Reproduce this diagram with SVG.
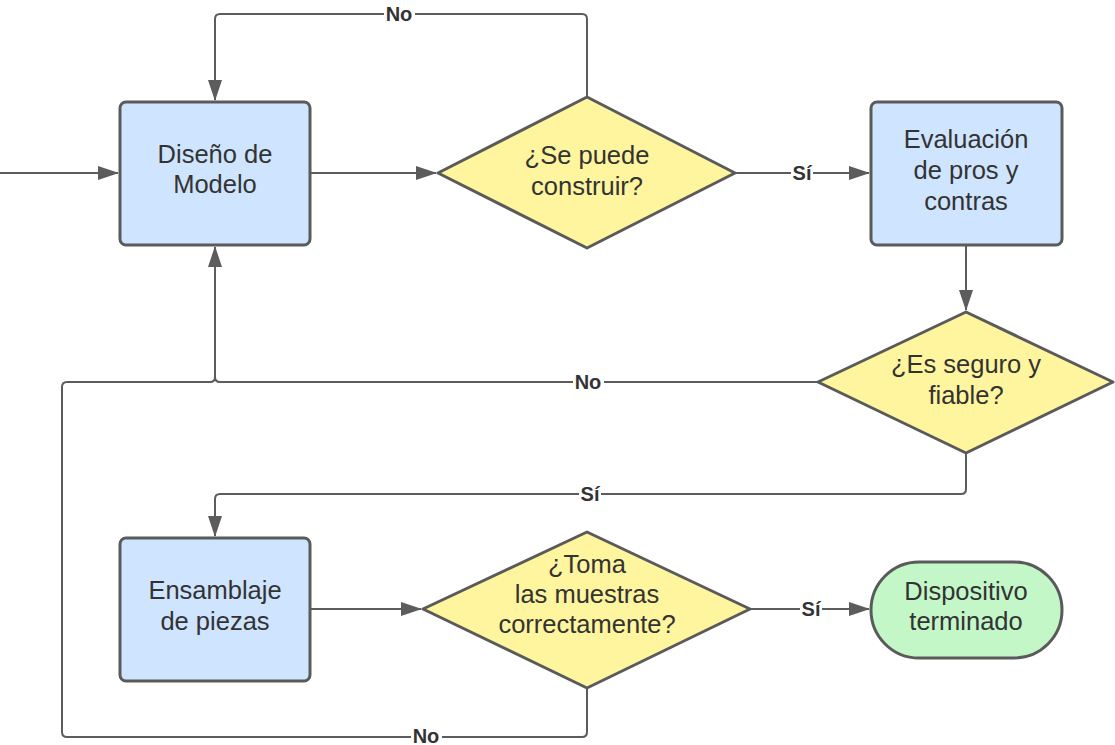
<svg xmlns="http://www.w3.org/2000/svg" width="1115" height="745" viewBox="0 0 1115 745">
<style>
.box{fill:#cfe4ff;stroke:#5a5a5a;stroke-width:3}
.dia{fill:#fff59e;stroke:#5a5a5a;stroke-width:3;stroke-linejoin:round}
.term{fill:#c3f7c8;stroke:#5a5a5a;stroke-width:3}
.t{font-family:"Liberation Sans",Arial,sans-serif;font-size:25.5px;fill:#333;text-anchor:middle}
.c{fill:none;stroke:#5c5c5c;stroke-width:2}
.lb{font-family:"Liberation Sans",Arial,sans-serif;font-size:20px;font-weight:bold;fill:#333;text-anchor:middle}
.lbg{fill:#fff}
</style>
<defs>
<marker id="ah" markerUnits="userSpaceOnUse" markerWidth="21" markerHeight="14" refX="20" refY="7" orient="auto">
<path d="M0,0 L21,7 L0,14 Z" fill="#5c5c5c"/>
</marker>
</defs>
<g id="connectors">
<path class="c" d="M0,173 H118" marker-end="url(#ah)"/>
<path class="c" d="M310,173 H436" marker-end="url(#ah)"/>
<path class="c" d="M587,97 V19 Q587,14 582,14 H220 Q215,14 215,19 V100" marker-end="url(#ah)"/>
<path class="c" d="M735,173 H869" marker-end="url(#ah)"/>
<path class="c" d="M966,245 V310" marker-end="url(#ah)"/>
<path class="c" d="M818,382 H220 Q215,382 215,377 V247" marker-end="url(#ah)"/>
<path class="c" d="M966,453 V489 Q966,494 961,494 H220 Q215,494 215,499 V536" marker-end="url(#ah)"/>
<path class="c" d="M310,609 H421" marker-end="url(#ah)"/>
<path class="c" d="M750,609 H869" marker-end="url(#ah)"/>
<path class="c" d="M587,688 V732 Q587,737 582,737 H67 Q62,737 62,732 V387 Q62,382 67,382 H210 Q215,382 215,377"/>
<rect class="lbg" x="384" y="4" width="31" height="20"/>
<text class="lb" x="399" y="21">No</text>
<rect class="lbg" x="791" y="163" width="22" height="20"/>
<text class="lb" x="802" y="180">Sí</text>
<rect class="lbg" x="573" y="372" width="31" height="20"/>
<text class="lb" x="588" y="389">No</text>
<rect class="lbg" x="579" y="484" width="22" height="20"/>
<text class="lb" x="590" y="501">Sí</text>
<rect class="lbg" x="800" y="599" width="22" height="20"/>
<text class="lb" x="811" y="616">Sí</text>
<rect class="lbg" x="411" y="727" width="31" height="18"/>
<text class="lb" x="426" y="743">No</text>
</g>
<g id="diseno">
<rect class="box" x="120" y="102" width="190" height="143" rx="6"/>
<text class="t" x="215" y="163">Diseño de</text>
<text class="t" x="215" y="193">Modelo</text>
</g>
<g id="construir">
<path class="dia" d="M587,97 L735,173 L587,248 L438,173 Z"/>
<text class="t" x="587" y="164">¿Se puede</text>
<text class="t" x="587" y="195">construir?</text>
</g>
<g id="evaluacion">
<rect class="box" x="871" y="102" width="191" height="143" rx="6"/>
<text class="t" x="966" y="148">Evaluación</text>
<text class="t" x="966" y="179">de pros y</text>
<text class="t" x="966" y="210">contras</text>
</g>
<g id="seguro">
<path class="dia" d="M966,312 L1113,382 L966,453 L818,382 Z"/>
<text class="t" x="966" y="373">¿Es seguro y</text>
<text class="t" x="966" y="404">fiable?</text>
</g>
<g id="ensamblaje">
<rect class="box" x="120" y="538" width="190" height="143" rx="6"/>
<text class="t" x="215" y="599">Ensamblaje</text>
<text class="t" x="215" y="630">de piezas</text>
</g>
<g id="muestras">
<path class="dia" d="M587,532 L750,609 L587,688 L423,609 Z"/>
<text class="t" x="587" y="573">¿Toma</text>
<text class="t" x="587" y="603">las muestras</text>
<text class="t" x="587" y="633">correctamente?</text>
</g>
<g id="terminado">
<rect class="term" x="871" y="562" width="191" height="96" rx="48"/>
<text class="t" x="966" y="600">Dispositivo</text>
<text class="t" x="966" y="630">terminado</text>
</g>
</svg>
